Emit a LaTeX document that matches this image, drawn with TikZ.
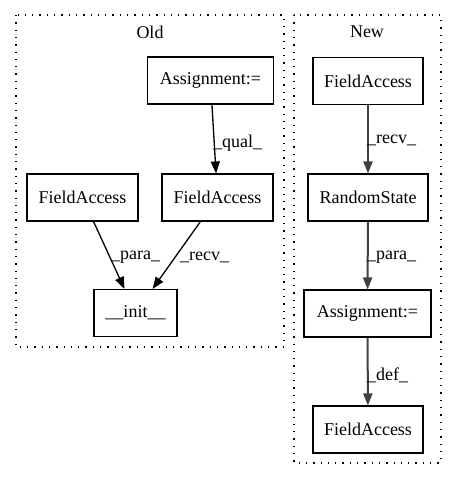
\documentclass[tikz,border=0pt]{standalone}
\usepackage{fontspec}
\setmainfont{Liberation Serif}
\usetikzlibrary{arrows.meta}
\begin{document}
\begin{tikzpicture}[x=1pt,y=-1pt,
  box/.style={draw=black,line width=1.1pt,fill=white,inner sep=0pt,minimum height=47pt,font=\fontsize{18}{21}\selectfont},
  cluster/.style={draw=black,line width=1.3pt,dash pattern=on 1.3pt off 6pt},
  ctitle/.style={font=\fontsize{18}{21}\selectfont,inner sep=0pt},
  lbl/.style={font=\fontsize{18}{21}\selectfont,inner sep=0pt,anchor=west},
  oldedge/.style={draw=black,line width=1.3pt,-{Triangle[length=12pt,width=9pt]}},
  newedge/.style={draw=black!75,line width=2pt,-{Triangle[length=12pt,width=9pt]}},
]
\useasboundingbox (0,0) rectangle (457,480);
% clusters
\draw[cluster] (16,15) rectangle (284,347);
\draw[cluster] (294,15) rectangle (441,463);
\node[ctitle] (toldt) at (150,32) {Old};
\node[ctitle] (tnewt) at (367,32) {New};
% Old nodes
\node[box,minimum width=126pt] (oa) at (210.5,80.5) {Assignment:=};
\node[box,minimum width=111pt] (ofl) at (82.5,197.5) {FieldAccess};
\node[box,minimum width=111pt] (ofr) at (217.5,197.5) {FieldAccess};
\node[box,minimum width=83pt] (oi) at (135.5,313) {\_\_init\_\_};
% New nodes
\node[box,minimum width=110pt] (nf1) at (368,81) {FieldAccess};
\node[box,minimum width=120pt] (nrs) at (368,197.5) {RandomState};
\node[box,minimum width=127pt] (na) at (367.5,313.5) {Assignment:=};
\node[box,minimum width=110pt] (nf2) at (368,429.5) {FieldAccess};
% Old edges
\draw[oldedge] (oa) -- (ofr);
\draw[oldedge] (ofl) -- (oi);
\draw[oldedge] (ofr) -- (oi);
\node[lbl] (lq) at (213,143) {\_qual\_};
\node[lbl] (lp) at (111,257) {\_para\_};
\node[lbl] (lr) at (180,257) {\_recv\_};
% New edges
\draw[newedge] (nf1) -- (nrs);
\draw[newedge] (nrs) -- (na);
\draw[newedge] (na) -- (nf2);
\node[lbl] (nlr) at (367,140) {\_recv\_};
\node[lbl] (nlp) at (367,257) {\_para\_};
\node[lbl] (nld) at (367,375) {\_def\_};
\end{tikzpicture}
\end{document}
